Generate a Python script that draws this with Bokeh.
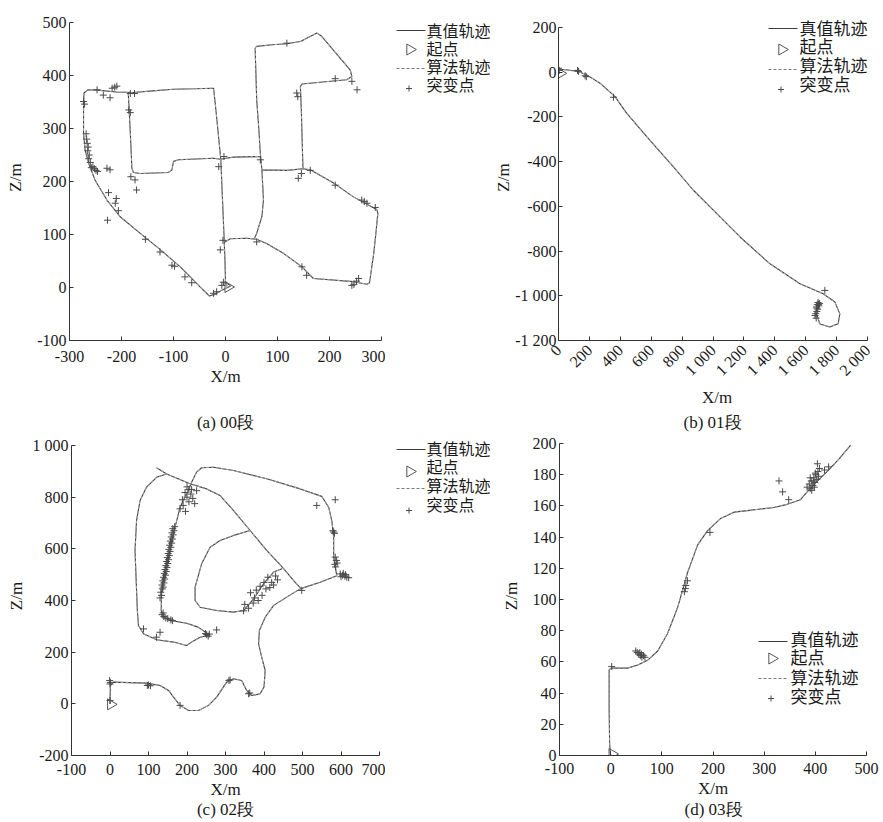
import numpy as np
from bokeh.plotting import figure
from bokeh.layouts import column, row
from bokeh.models import FixedTicker, Range1d
from bokeh.core.properties import value
from bokeh.embed import file_html
from bokeh.resources import INLINE

NUM_FONT = "Liberation Serif"
CJK_FONT = "Noto Sans CJK SC"

LEGEND_LABELS = ["真值轨迹", "起点", "算法轨迹", "突变点"]
CAPTIONS = ["(a) 00段", "(b) 01段", "(c) 02段", "(d) 03段"]

# ---------------- (a) 00段 ----------------
A_SEG1_X = [3, 0, -1, -3, -9, -14, -20, -23, -60, -100, -140, -177, -210, -241, -265, -272, -273, -273, -270, -263, -251, -228, -203, -164, -126, -87, -49, -31, -20, -7, 10, 0]
A_SEG1_Z = [2, 10, 50, 102, 241, 291, 350, 376, 375, 374, 371, 368, 369, 372, 373, 367, 348, 291, 260, 234, 203, 165, 134, 102, 72, 39, 1, -16, -13, -5, 3, 10]
A_SEG2_X = [-187, -185, -182, -180, -177, -164, -110, -103, -100, -90, -23, -10, 15, 67]
A_SEG2_Z = [367, 330, 270, 225, 217, 215, 217, 222, 238, 241, 244, 242, 246, 247]
A_SEG3_X = [57, 60, 64, 67, 70, 73, 70, 60, 55]
A_SEG3_Z = [452, 354, 300, 253, 222, 165, 134, 102, 91]
A_SEG4_X = [57, 60, 90, 118, 144, 176, 185, 240, 243, 233, 147, 144, 146, 147, 149]
A_SEG4_Z = [452, 455, 458, 460, 464, 480, 474, 410, 398, 392, 384, 379, 330, 291, 225]
A_SEG5_X = [70, 118, 149, 163, 208, 246, 291, 293, 289, 285, 277, 272, 246, 169, 147, 112, 79, 60, 41, 9, -1]
A_SEG5_Z = [222, 221, 224, 222, 197, 171, 147, 140, 100, 64, 9, 6, 11, 17, 39, 64, 83, 91, 93, 92, 86]
A_START = (5, 1)
A_MUT_X = [-273, -271, -268, -267, -266, -264, -265, -262, -263, -260, -255, -252, -249, -246, -258, -228, -222, -225, -210, -212, -206, -227, -235, -222, -218, -213, -209, -247, -183, -175, -186, -183, -182, -174, -171, -154, -126, -103, -98, -78, -65, -23, -17, -7, -4, -10, -5, -13, -3, 67, 60, 118, 137, 139, 211, 243, 253, 140, 146, 163, 211, 262, 267, 272, 288, 147, 156, 243, 247, 256, 252]
A_MUT_Z = [351, 346, 290, 280, 272, 265, 258, 250, 243, 236, 228, 224, 221, 219, 226, 225, 222, 179, 168, 159, 145, 127, 363, 358, 376, 378, 380, 373, 366, 366, 335, 330, 209, 203, 184, 91, 67, 42, 40, 20, 9, -11, -8, 4, 10, 71, 89, 228, 247, 241, 86, 461, 367, 360, 394, 389, 373, 206, 215, 221, 193, 165, 162, 159, 151, 39, 23, 4, 6, 17, 12]
A_XTICKS = [-300, -200, -100, 0, 100, 200, 300]
A_XLABELS = ["-300", "-200", "-100", "0", "100", "200", "300"]
A_YTICKS = [-100, 0, 100, 200, 300, 400, 500]
A_YLABELS = ["-100", "0", "100", "200", "300", "400", "500"]

# ---------------- (b) 01段 ----------------
B_X = [0, 60, 129, 183, 269, 366, 442, 571, 744, 873, 1002, 1175, 1369, 1563, 1713, 1789, 1821, 1810, 1756, 1692, 1670, 1680]
B_Z = [14, 10, 3, -12, -49, -109, -184, -288, -423, -528, -617, -737, -857, -946, -991, -1028, -1081, -1125, -1140, -1126, -1081, -1050]
B_START = (12, -5)
B_MUT_X = [0, 5, 123, 130, 172, 180, 356, 1724, 1680, 1675, 1685, 1670, 1690, 1678, 1672, 1665, 1660, 1668, 1683, 1672]
B_MUT_Z = [18, 8, 8, 4, -16, -20, -112, -976, -1030, -1040, -1045, -1050, -1035, -1060, -1070, -1080, -1088, -1100, -1038, -1055]
B_XTICKS = [0, 200, 400, 600, 800, 1000, 1200, 1400, 1600, 1800, 2000]
B_XLABELS = ["0", "200", "400", "600", "800", "1 000", "1 200", "1 400", "1 600", "1 800", "2 000"]
B_YTICKS = [-1200, -1000, -800, -600, -400, -200, 0, 200]
B_YLABELS = ["-1 200", "-1 000", "-800", "-600", "-400", "-200", "0", "200"]

# ---------------- (c) 02段 ----------------
C_SEG1_X = [0, 0, 1, 9, 50, 95, 130, 152, 165, 182, 204, 230, 256, 277, 303, 321, 342, 355, 368, 390, 400, 403, 394, 386, 388, 403, 425, 459, 494, 546, 589, 585, 581, 581, 576, 568, 550, 494, 407, 321, 269, 238, 225, 212]
C_SEG1_Z = [0, 13, 70, 84, 82, 80, 71, 52, 26, -6, -26, -26, -6, 26, 84, 97, 90, 52, 32, 39, 65, 129, 181, 232, 284, 335, 381, 413, 445, 471, 496, 530, 568, 645, 710, 761, 803, 832, 871, 903, 916, 914, 897, 858]
C_SEG2_X = [121, 147, 208, 251, 286, 321, 364, 407, 451, 477, 497]
C_SEG2_Z = [914, 890, 852, 832, 806, 748, 671, 594, 523, 477, 445]
C_SEG3_X = [212, 199, 182, 169, 156, 143, 134, 133, 139, 156, 199, 229, 251, 256]
C_SEG3_Z = [858, 813, 761, 684, 594, 516, 439, 361, 335, 323, 312, 297, 274, 265]
C_SEG4_X = [147, 121, 95, 78, 69, 65, 69, 71, 74, 87, 121, 165, 199, 212, 234, 256]
C_SEG4_Z = [890, 877, 839, 787, 710, 594, 439, 361, 303, 271, 248, 239, 226, 239, 258, 265]
C_SEG5_X = [364, 321, 286, 260, 238, 221, 221, 234, 277, 321, 347, 373, 399, 425, 447]
C_SEG5_Z = [671, 652, 632, 606, 542, 452, 400, 374, 361, 355, 361, 406, 465, 510, 523]
C_START = (2, -2)
C_MUT_X = [136, 138, 135, 140, 137, 142, 139, 144, 141, 146, 143, 148, 145, 150, 147, 152, 149, 154, 151, 156, 153, 158, 155, 160, 157, 162, 159, 164, 161, 166, 163, 168, 132, 134, 130,
           200, 205, 195, 210, 200, 215, 188, 205, 220, 190, 182, 196, 212, 225,
           135, 140, 145, 150, 158, 162, 138, 87, 130, 121,
           251, 255, 248, 258, 277,
           581, 583, 579, 585, 588, 584, 590, 586, 598, 604, 610, 615, 620, 606, 612, 600, 537, 585, 498,
           347, 360, 372, 385, 350, 375, 395, 365, 380, 405, 390, 415, 420, 435, 410, 430, 400, 425,
           0, 1, -1, 0, 97, 100, 105, 312, 309, 360, 363, 182]
C_MUT_Z = [445, 452, 460, 468, 476, 483, 490, 498, 505, 512, 520, 528, 535, 543, 551, 558, 566, 574, 582, 590, 598, 606, 614, 622, 630, 638, 646, 654, 662, 670, 678, 686, 432, 420, 410,
           840, 830, 818, 812, 800, 795, 790, 782, 775, 768, 755, 745, 830, 825,
           345, 338, 332, 330, 325, 322, 352, 290, 277, 258,
           268, 262, 272, 270, 286,
           665, 660, 670, 568, 555, 540, 545, 530, 503, 498, 494, 490, 488, 505, 500, 492, 768, 790, 439,
           360, 370, 390, 400, 385, 410, 420, 430, 440, 445, 455, 450, 470, 480, 490, 495, 470, 460,
           77, 83, 90, 13, 71, 73, 70, 93, 90, 39, 42, -6]
C_XTICKS = [-100, 0, 100, 200, 300, 400, 500, 600, 700]
C_XLABELS = ["-100", "0", "100", "200", "300", "400", "500", "600", "700"]
C_YTICKS = [-200, 0, 200, 400, 600, 800, 1000]
C_YLABELS = ["-200", "0", "200", "400", "600", "800", "1 000"]

# ---------------- (d) 03段 ----------------
D_X = [0, -2, -3, -3, 1, 14, 33, 53, 72, 92, 111, 131, 150, 170, 189, 215, 241, 267, 293, 319, 345, 371, 384, 401, 423, 446, 469]
D_Z = [0, 7, 30, 55, 56, 56, 56, 58, 61, 67, 78, 95, 117, 135, 144, 152, 156, 157, 158, 159, 161, 164, 169, 175, 182, 190, 199]
D_START = (3, 1)
D_MUT_X = [2, 49, 52, 55, 58, 61, 64, 67, 57, 60, 144, 147, 150, 146, 194, 329, 336, 348, 384, 388, 390, 392, 395, 397, 399, 401, 403, 405, 390, 393, 398, 406, 408, 404, 400, 396, 426, 418]
D_MUT_Z = [57, 67, 66, 65, 64, 63, 64, 63, 66, 65, 105, 109, 112, 107, 143, 176, 169, 164, 172, 174, 171, 176, 173, 178, 175, 180, 177, 182, 178, 170, 172, 179, 184, 187, 181, 176, 185, 183]
D_XTICKS = [-100, 0, 100, 200, 300, 400, 500]
D_XLABELS = ["-100", "0", "100", "200", "300", "400", "500"]
D_YTICKS = [0, 20, 40, 60, 80, 100, 120, 140, 160, 180, 200]
D_YLABELS = ["0", "20", "40", "60", "80", "100", "120", "140", "160", "180", "200"]

TRUE_COLOR = "#3c3c3c"
ALG_COLOR = "#a5a5a5"
MARK_COLOR = "#4a4a4a"
TEXT_COLOR = "#1a1a1a"

# page layout (pixels); every figure of a row shares the same frame top/bottom
SPLIT_X = 490
LEG_X0 = 385
TOP_H, TOP_FT, TOP_FB = 410, 14, 340
CAP_H = 24
R2 = TOP_H + CAP_H
BOT_H, BOT_FT, BOT_FB = 366, 436, 755
R3 = R2 + BOT_H
CAP2_H = 20


def join(segs):
    xs, zs = [], []
    for i, (x, z) in enumerate(segs):
        if i:
            xs.append(np.nan)
            zs.append(np.nan)
        xs += list(x)
        zs += list(z)
    return xs, zs


def blank(x0, x1, y0, y1, ft=None, fb=None):
    """Empty figure whose data coordinates equal page pixels (y grows downwards)."""
    ft = y0 if ft is None else ft
    fb = y1 if fb is None else fb
    p = figure(frame_width=x1 - x0, frame_height=fb - ft, x_range=Range1d(x0, x1),
               y_range=Range1d(fb, ft), output_backend="svg", toolbar_location=None,
               x_axis_type=None, y_axis_type=None, min_border_left=0, min_border_right=0,
               min_border_top=ft - y0, min_border_bottom=y1 - fb,
               background_fill_color="white", border_fill_color="white")
    p.grid.visible = False
    p.outline_line_color = None
    return p


def draw_legend(p, conv, lx0, lx1, gy, tx, ty, fsz):
    sx, sy = conv
    p.line([sx(lx0), sx(lx1)], [sy(gy[0])] * 2, line_color=TRUE_COLOR, line_width=1.1)
    p.scatter([sx((lx0 + lx1) / 2 - 1)], [sy(gy[1])], marker="triangle", angle=-np.pi / 2,
              size=11, fill_color=None, line_color="#555555", line_width=1)
    p.line([sx(lx0), sx(lx1)], [sy(gy[2])] * 2, line_color="#7a7a7a", line_width=1.0,
           line_dash="3 2")
    p.scatter([sx((lx0 + lx1) / 2 - 2)], [sy(gy[3])], marker="cross", size=6,
              line_color=MARK_COLOR, line_width=1)
    p.text([sx(tx)] * 4, [sy(v) for v in ty], text=LEGEND_LABELS,
           text_font=value(CJK_FONT), text_font_size=value(fsz),
           text_color=TEXT_COLOR, text_baseline="middle", text_align="left")


def panel(xs, zs, start, mx, mz, ticks, geo, styl, leg=None):
    CL, CR, CT, CB = geo["canvas"]
    FL, FR, FT, FB = geo["frame"]
    (X0, PX0), (X1, PX1) = geo["xaxis"]
    (Y0, PY0), (Y1, PY1) = geo["yaxis"]
    ux = (X1 - X0) / (PX1 - PX0)
    uy = (Y1 - Y0) / (PY0 - PY1)
    xr = (X0 - (PX0 - FL) * ux, X0 + (FR - PX0) * ux)
    yr = (Y0 - (FB - PY0) * uy, Y0 + (PY0 - FT) * uy)

    p = figure(frame_width=FR - FL, frame_height=FB - FT,
               x_range=Range1d(*xr), y_range=Range1d(*yr),
               output_backend="svg", toolbar_location=None,
               min_border_left=FL - CL, min_border_right=CR - FR,
               min_border_top=FT - CT, min_border_bottom=CB - FB,
               background_fill_color="white", border_fill_color="white")
    p.grid.visible = False
    p.outline_line_color = None

    p.line(xs, zs, line_color=TRUE_COLOR, line_width=1.1)
    p.line(xs, zs, line_color=ALG_COLOR, line_width=1.0, line_dash="3 2")
    p.scatter([start[0]], [start[1]], marker="triangle", angle=-np.pi / 2,
              size=11, fill_color=None, line_color="#555555", line_width=1)
    p.scatter(mx, mz, marker="cross", size=7, line_color=MARK_COLOR, line_width=1)

    xt, xl, yt, yl = ticks
    for ax, tk, lb, bnd in ((p.xaxis[0], xt, xl, (X0, X1)), (p.yaxis[0], yt, yl, (Y0, Y1))):
        ax.ticker = FixedTicker(ticks=tk, minor_ticks=[])
        ax.major_label_overrides = {t: s for t, s in zip(tk, lb)}
        ax.bounds = bnd
        ax.axis_line_color = "#333333"
        ax.major_tick_line_color = "#333333"
        ax.major_tick_in = 4
        ax.major_tick_out = 0
        ax.minor_tick_line_color = None
        ax.major_label_text_font = NUM_FONT
        ax.major_label_text_font_size = "16px"
        ax.major_label_text_color = TEXT_COLOR
        ax.axis_label_text_font = NUM_FONT
        ax.axis_label_text_font_size = "17px"
        ax.axis_label_text_font_style = "normal"
        ax.axis_label_text_color = TEXT_COLOR
    p.xaxis.axis_label = "X/m"
    p.yaxis.axis_label = "Z/m"
    p.xaxis.major_label_standoff = styl["xs1"]
    p.xaxis.axis_label_standoff = styl["xs2"]
    p.yaxis.major_label_standoff = styl.get("ys1", 3)
    p.yaxis.axis_label_standoff = styl["ys2"]
    if styl.get("rotate"):
        p.xaxis.major_label_orientation = np.pi / 4

    if leg is not None:
        conv = (lambda px: X0 + (px - PX0) * ux, lambda py: Y0 + (PY0 - py) * uy)
        draw_legend(p, conv, *leg)
    return p


ident = (lambda v: v, lambda v: v)

# ---- top row ----
ax_, az_ = join([(A_SEG1_X, A_SEG1_Z), (A_SEG2_X, A_SEG2_Z), (A_SEG3_X, A_SEG3_Z),
                 (A_SEG4_X, A_SEG4_Z), (A_SEG5_X, A_SEG5_Z)])
pa = panel(ax_, az_, A_START, A_MUT_X, A_MUT_Z, (A_XTICKS, A_XLABELS, A_YTICKS, A_YLABELS),
           dict(canvas=(0, LEG_X0, 0, TOP_H), frame=(69, 381, TOP_FT, TOP_FB),
                xaxis=((-300, 69), (300, 381)), yaxis=((-100, 340), (500, 22))),
           dict(xs1=10, xs2=2, ys2=9))
leg_a = blank(LEG_X0, SPLIT_X, 0, TOP_H, TOP_FT, TOP_FB)
draw_legend(leg_a, ident, 396, 425, (30, 49, 68, 88), 426, (29, 47, 65, 83), "16px")

pb = panel(B_X, B_Z, B_START, B_MUT_X, B_MUT_Z, (B_XTICKS, B_XLABELS, B_YTICKS, B_YLABELS),
           dict(canvas=(SPLIT_X, 883, 0, TOP_H), frame=(558, 875, TOP_FT, TOP_FB),
                xaxis=((0, 558), (2000, 867)), yaxis=((-1200, 340), (200, 27))),
           dict(xs1=7, xs2=0, ys1=2, ys2=-1, rotate=True),
           leg=(768, 797, (28, 49, 69, 89), 799, (27, 45, 64, 83), "17px"))

cap_top = blank(0, 883, TOP_H, TOP_H + CAP_H)
cap_top.text([225, 712], [422, 422], text=CAPTIONS[:2], text_font=value(NUM_FONT),
             text_font_size=value("17px"), text_color=TEXT_COLOR,
             text_baseline="middle", text_align="center")

# ---- bottom row ----
cx_, cz_ = join([(C_SEG1_X, C_SEG1_Z), (C_SEG2_X, C_SEG2_Z), (C_SEG3_X, C_SEG3_Z),
                 (C_SEG4_X, C_SEG4_Z), (C_SEG5_X, C_SEG5_Z)])
pc = panel(cx_, cz_, C_START, C_MUT_X, C_MUT_Z, (C_XTICKS, C_XLABELS, C_YTICKS, C_YLABELS),
           dict(canvas=(0, LEG_X0, R2, R3), frame=(71, 379, BOT_FT, BOT_FB),
                xaxis=((-100, 71), (700, 379)), yaxis=((-200, 755), (1000, 445))),
           dict(xs1=8, xs2=2, ys2=4))
leg_c = blank(LEG_X0, SPLIT_X, R2, R3, BOT_FT, BOT_FB)
draw_legend(leg_c, ident, 396, 425, (449, 471, 488, 510), 426, (447, 465, 484, 503), "16px")

pd_ = panel(D_X, D_Z, D_START, D_MUT_X, D_MUT_Z, (D_XTICKS, D_XLABELS, D_YTICKS, D_YLABELS),
            dict(canvas=(SPLIT_X, 883, R2, R3), frame=(559, 866, BOT_FT, BOT_FB),
                 xaxis=((-100, 559), (500, 866)), yaxis=((0, 755), (200, 443))),
            dict(xs1=7, xs2=2, ys2=9),
            leg=(758, 787, (641, 658, 678, 698), 790, (638, 656, 676, 695), "17px"))

cap_bot = blank(0, 883, R3, R3 + CAP2_H)
cap_bot.text([225, 713], [808, 808], text=CAPTIONS[2:], text_font=value(NUM_FONT),
             text_font_size=value("17px"), text_color=TEXT_COLOR,
             text_baseline="middle", text_align="center")

layout = column(row(pa, leg_a, pb), cap_top, row(pc, leg_c, pd_), cap_bot)
open("out.html", "w").write(file_html(layout, INLINE))
